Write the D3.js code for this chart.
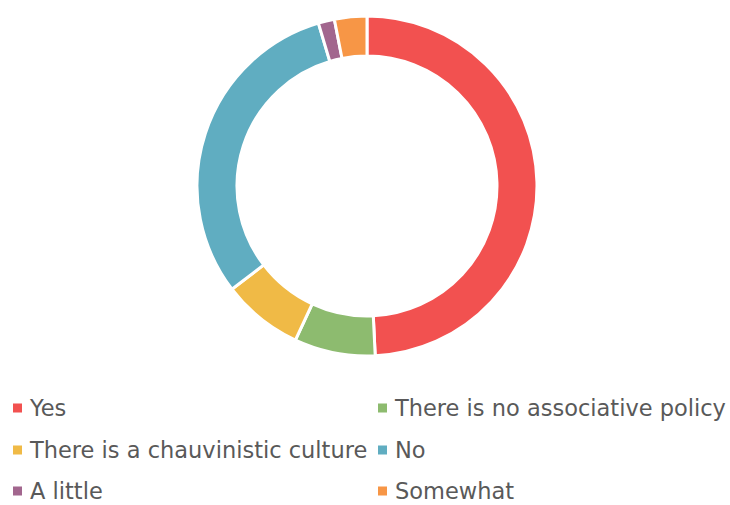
<!DOCTYPE html>
<html>
<head>
<meta charset="utf-8">
<script src="https://cdn.jsdelivr.net/npm/d3@7"></script>
<style>
  html, body { margin: 0; padding: 0; background: #fff; }
  svg { display: block; }
  text { font-family: "Century Gothic", "DejaVu Sans", sans-serif; }
</style>
</head>
<body>
<svg id="chart" width="730" height="505"></svg>
<script>
// Survey answers and response counts
const categories = ["Yes", "There is no associative policy", "There is a chauvinistic culture", "No", "A little", "Somewhat"];
const counts = [32, 5, 5, 20, 1, 2];
const colors = ["#F25150", "#8DBB6F", "#F0BA46", "#60ADC1", "#A2668E", "#F79646"];

const svg = d3.select("#chart");
const cx = 367, cy = 186, outerR = 170, innerR = 130;

const color = d3.scaleOrdinal().domain(categories).range(colors);
const pie = d3.pie().sort(null).value(d => d.value);
const arc = d3.arc().innerRadius(innerR).outerRadius(outerR);

const data = categories.map((c, i) => ({ name: c, value: counts[i] }));

svg.append("g")
  .attr("transform", `translate(${cx},${cy})`)
  .selectAll("path")
  .data(pie(data))
  .join("path")
  .attr("d", arc)
  .attr("fill", d => color(d.data.name))
  .attr("stroke", "#fff")
  .attr("stroke-width", 3)
  .attr("stroke-linejoin", "miter");

// Legend: two columns, three rows
const colX = [13, 378];
const rowY = [408, 450, 491];
const legend = svg.append("g")
  .selectAll("g")
  .data(data)
  .join("g")
  .attr("transform", (d, i) => `translate(${colX[i % 2]},${rowY[Math.floor(i / 2)]})`);

legend.append("rect")
  .attr("x", 0).attr("y", -4.5)
  .attr("width", 9).attr("height", 9)
  .attr("fill", d => color(d.name));

legend.append("text")
  .attr("x", 17)
  .attr("y", 0)
  .attr("dy", "0.35em")
  .attr("fill", "#595959")
  .attr("font-size", 22.5)
  .text(d => d.name);
</script>
</body>
</html>
